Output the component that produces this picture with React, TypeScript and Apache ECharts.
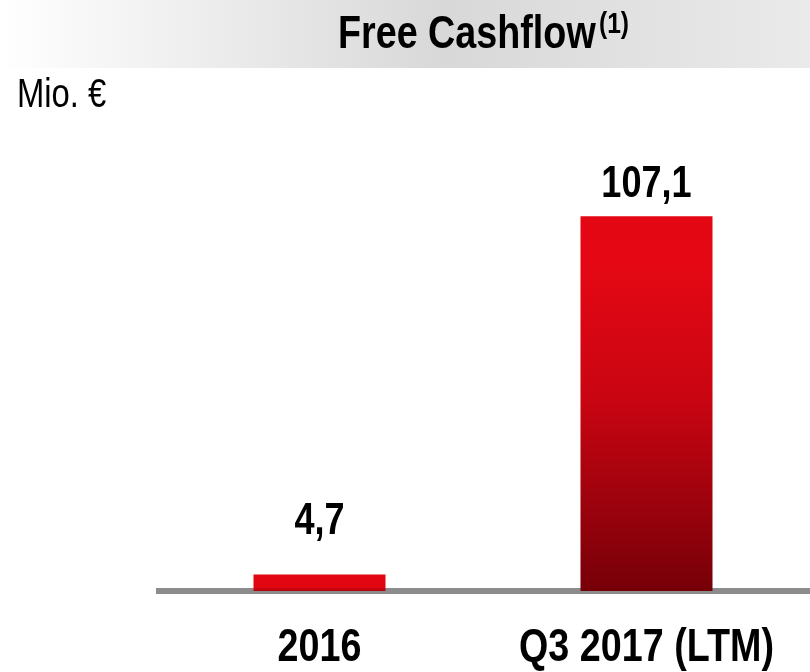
import React, { useEffect, useRef } from "react";
import * as echarts from "echarts";

const categories = ["2016", "Q3 2017 (LTM)"];
const values = [4.7, 107.1];
const valueLabels = ["4,7", "107,1"];
const titleText = "Free Cashflow";
const titleSup = "(1)";
const unitText = "Mio. €";

const FONT = "'Liberation Sans', Arial, sans-serif";
const NARROW = 0.82;
const labelGap = [55, 33.5];
const catGap = 54.5;

export default function App() {
  const ref = useRef<HTMLDivElement>(null);
  useEffect(() => {
    if (!ref.current) return;
    const chart = echarts.init(ref.current, null, { renderer: "svg" });
    const barColors = [
      new echarts.graphic.LinearGradient(0, 0, 0, 1, [
        { offset: 0, color: "#e30613" },
        { offset: 0.75, color: "#e00612" },
        { offset: 1, color: "#b0030c" },
      ]),
      new echarts.graphic.LinearGradient(0, 0, 0, 1, [
        { offset: 0, color: "#e30613" },
        { offset: 0.12, color: "#e50814" },
        { offset: 0.49, color: "#c90512" },
        { offset: 1, color: "#760008" },
      ]),
    ];
    chart.setOption({
      animation: false,
      grid: { left: 156, right: -6, top: 171, bottom: 81, containLabel: false },
      xAxis: {
        type: "category",
        data: categories,
        axisLine: { show: true, lineStyle: { color: "#8c8c8c", width: 6, cap: "butt" } },
        axisTick: { show: false },
        axisLabel: { show: false },
      },
      yAxis: {
        type: "value",
        min: 0,
        max: 120,
        show: false,
        splitLine: { show: false },
      },
      series: [
        {
          type: "bar",
          barWidth: 132,
          data: values.map((v, i) => ({
            value: v,
            itemStyle: { color: barColors[i] },
          })),
        },
        {
          type: "custom",
          silent: true,
          z: 10,
          data: values.map((v, i) => [i, v]),
          renderItem: (params: any, api: any) => {
            const i = api.value(0);
            const top = api.coord([i, api.value(1)]);
            const base = api.coord([i, 0]);
            return {
              type: "group",
              children: [
                {
                  type: "text",
                  x: top[0],
                  y: top[1] - labelGap[i],
                  scaleX: NARROW,
                  style: {
                    text: valueLabels[i],
                    fill: "#000",
                    font: `bold 44px ${FONT}`,
                    align: "center",
                    verticalAlign: "middle",
                  },
                },
                {
                  type: "text",
                  x: base[0],
                  y: base[1] + catGap,
                  scaleX: NARROW,
                  style: {
                    text: categories[i],
                    fill: "#000",
                    font: `bold 46px ${FONT}`,
                    align: "center",
                    verticalAlign: "middle",
                  },
                },
              ],
            };
          },
        },
      ],
      graphic: [
        {
          type: "rect",
          z: -10,
          shape: { x: 0, y: 0, width: 810, height: 68 },
          style: {
            fill: new echarts.graphic.LinearGradient(0, 0, 1, 0, [
              { offset: 0, color: "#ffffff" },
              { offset: 0.55, color: "#d8d8d8" },
              { offset: 1, color: "#eaeaea" },
            ]),
          },
        },
        {
          type: "text",
          x: 338,
          y: 32,
          scaleX: NARROW,
          style: {
            text: titleText,
            fill: "#000",
            font: `bold 46px ${FONT}`,
            align: "left",
            verticalAlign: "middle",
          },
        },
        {
          type: "text",
          x: 599,
          y: 23,
          scaleX: NARROW,
          style: {
            text: titleSup,
            fill: "#000",
            font: `bold 30px ${FONT}`,
            align: "left",
            verticalAlign: "middle",
          },
        },
        {
          type: "text",
          x: 17,
          y: 93,
          scaleX: NARROW,
          style: {
            text: unitText,
            fill: "#000",
            font: `40px ${FONT}`,
            align: "left",
            verticalAlign: "middle",
          },
        },
      ],
    });
    return () => chart.dispose();
  }, []);
  return (
    <div
      ref={ref}
      style={{ position: "fixed", left: 0, top: 0, width: 810, height: 672 }}
    />
  );
}
